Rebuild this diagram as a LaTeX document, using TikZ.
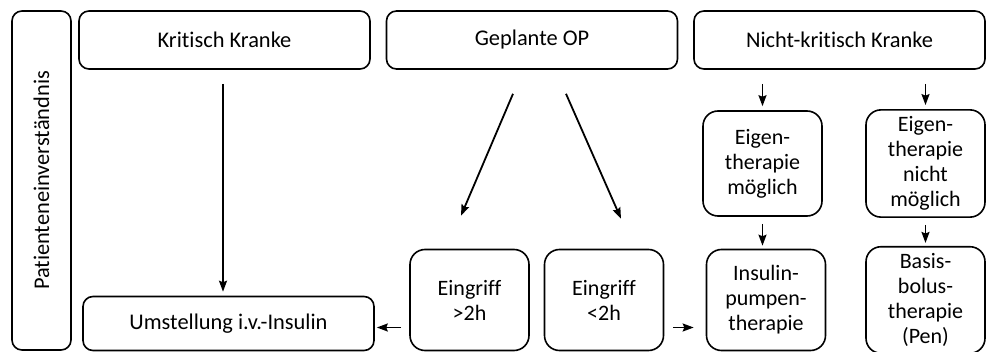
\documentclass[tikz,border=0pt]{standalone}
\usepackage{fontspec}
\setmainfont{Carlito}[Ligatures=NoCommon]
\usepackage{tikz}
\usetikzlibrary{arrows.meta}
\tikzstyle{group} = [rectangle, rounded corners=5pt, minimum height=29pt, minimum width=145.5pt, align=center, draw=black, line width=0.8pt, font=\fontsize{11.2}{13}\selectfont]
\tikzstyle{choice} = [rectangle, rounded corners=7.5pt, minimum height=50.5pt, minimum width=59.5pt, align=center, draw=black, line width=0.8pt, font=\fontsize{11}{12.5}\selectfont]
\tikzstyle{consent} = [rectangle, rounded corners=5pt, rotate=90, minimum width=169.5pt, minimum height=29.5pt, draw=black, line width=0.8pt, font=\fontsize{11.2}{13}\selectfont]
\tikzstyle{arrow} = [line width=0.9pt,->,>={Stealth[length=5.5pt,width=4pt,inset=0.8pt]}]
\tikzstyle{gap} = [shorten <=7pt, shorten >=2pt]

\begin{document}
\begin{tikzpicture}[node distance=153.75pt]
        \useasboundingbox (0,0) rectangle (493pt,-176pt);
        \node (consent) [consent] at (20.75pt,-90.25pt) {Patienteneinverständnis};
        \node (krit) [group] at (112.25pt,-20pt) {Kritisch Kranke};
        \node (geplant) [group, right of=krit] {Geplante OP};
        \node (nichtkrit) [group, right of=geplant] {Nicht-kritisch Kranke};

        \node (eigen) [choice, node distance=61.75pt, below of=nichtkrit, xshift=-38.5pt, minimum height=52.5pt] {Eigen-\\therapie\\möglich};
        \node (eigennicht) [choice, node distance=81.5pt, right of=eigen, minimum height=52.5pt] {Eigen-\\therapie\\nicht\\möglich};
        \node (pumpe) [choice, node distance=68pt, below of=eigen, xshift=1.75pt, yshift=-0.25pt] {Insulin-\\pumpen-\\therapie};
        \node (basis) [choice, node distance=68pt, below of=eigennicht, yshift=-0.25pt] {Basis-\\bolus-\\therapie\\(Pen)};
        \node (kurz) [choice, node distance=81pt, left of=pumpe] {Eingriff\\<2h};
        \node (lang) [choice, node distance=67.25pt, left of=kurz] {Eingriff\\>2h};
        \node (umstellung) [group, node distance=120.5pt, left of=lang, yshift=-11.75pt, minimum height=27pt] {Umstellung i.v.-Insulin};

        \draw [arrow, gap] ([xshift=-0.75pt]krit.south) -- ([xshift=-0.75pt]krit.south |- umstellung.north);
        \draw [arrow] ([xshift=-9.5pt,yshift=-12pt]geplant.south) -- ([xshift=-4.25pt,yshift=16.5pt]lang.north);
        \draw [arrow] ([xshift=17pt,yshift=-12pt]geplant.south) -- ([xshift=8.5pt,yshift=15pt]kurz.north);
        \draw [arrow, gap] (nichtkrit.south -| eigen.north) -- (eigen.north);
        \draw [arrow, gap] (nichtkrit.south -| eigennicht.north) -- (eigennicht.north);
        \draw [arrow, shorten <=3.5pt, shorten >=1.5pt] (eigen.south) -- (eigen.south |- pumpe.north);
        \draw [arrow, shorten <=3.5pt, shorten >=1.5pt] (eigennicht.south) -- (basis.north);
        \draw [arrow, shorten <=4pt, shorten >=1pt] ([yshift=-13.75pt]lang.west) -- ([yshift=-13.75pt]lang.west -| umstellung.east);
        \draw [arrow, shorten <=4.5pt, shorten >=6pt] ([yshift=-13.75pt]kurz.east) -- ([yshift=-13.75pt]kurz.east -| pumpe.west);
    \end{tikzpicture}
\end{document}
